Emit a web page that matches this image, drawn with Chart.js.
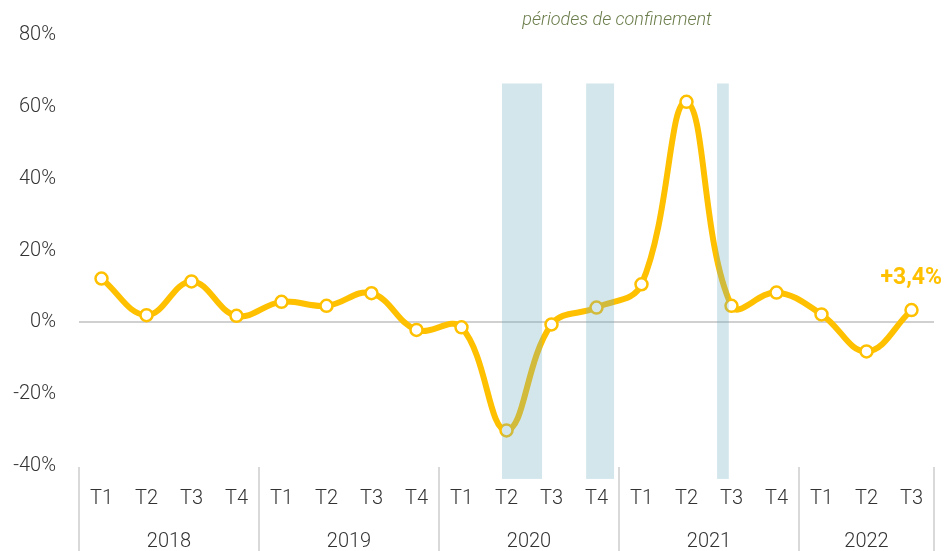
<!DOCTYPE html>
<html>
<head>
<meta charset="utf-8">
<script src="https://cdn.jsdelivr.net/npm/chart.js@4"></script>
<style>
  html, body { margin: 0; padding: 0; background: #fff; }
  #wrap { width: 944px; height: 551px; position: relative; }
</style>
</head>
<body>
<div id="wrap"><canvas id="evolution"></canvas></div>
<script>
// quarters and year groups
const quarters = ["T1", "T2", "T3", "T4", "T1", "T2", "T3", "T4", "T1", "T2", "T3", "T4", "T1", "T2", "T3", "T4", "T1", "T2", "T3"];
const years = ["2018", "2019", "2020", "2021", "2022"];
const quartersPerYear = [4, 4, 4, 4, 3];

// evolution (%)
const values = [12.2, 2.0, 11.4, 1.8, 5.7, 4.6, 8.1, -2.1, -1.4, -30.1, -0.6, 4.1, 10.6, 61.4, 4.6, 8.3, 2.2, -8.1, 3.4];
const lastLabel = "+3,4%";

// confinement periods, in category index units (start, end)
const lockdownStart = [8.9, 10.77, 13.68];
const lockdownEnd = [9.79, 11.39, 13.94];
const lockdownTop = 66.5;
const lockdownBottom = -43.6;

const yTicks = [-40, -20, 0, 20, 40, 60, 80];

const YELLOW = "#FFC000";
const TEXT = "#333333";

const extras = {
  id: "extras",
  afterDraw(chart) {
    const ctx = chart.ctx;
    const x = chart.scales.x;
    const y = chart.scales.y;

    // lockdown bands, drawn over the line
    ctx.save();
    ctx.fillStyle = "rgba(105, 172, 192, 0.3)";
    const top = y.getPixelForValue(lockdownTop);
    const bottom = y.getPixelForValue(lockdownBottom);
    lockdownStart.forEach((s, i) => {
      const x0 = x.getPixelForValue(s);
      const x1 = x.getPixelForValue(lockdownEnd[i]);
      ctx.fillRect(x0, top, x1 - x0, bottom - top);
    });
    ctx.restore();

    // caption
    ctx.save();
    ctx.font = "italic 300 18px Roboto";
    ctx.fillStyle = "#6b7d4a";
    ctx.textAlign = "center";
    ctx.textBaseline = "middle";
    ctx.fillText("périodes de confinement", 617, 20);
    ctx.restore();

    // year separators and labels
    ctx.save();
    ctx.strokeStyle = "#d9d9d9";
    ctx.lineWidth = 2;
    ctx.font = "300 20px Roboto";
    ctx.fillStyle = TEXT;
    ctx.textAlign = "center";
    ctx.textBaseline = "middle";
    let start = 0;
    const axisTop = chart.chartArea.bottom + 1;
    years.forEach((yr, i) => {
      const end = start + quartersPerYear[i];
      const left = x.getPixelForValue(start - 0.5);
      const right = x.getPixelForValue(end - 0.5);
      ctx.beginPath();
      ctx.moveTo(left, axisTop);
      ctx.lineTo(left, chart.height);
      ctx.stroke();
      if (i === years.length - 1) {
        ctx.beginPath();
        ctx.moveTo(right, axisTop);
        ctx.lineTo(right, chart.height);
        ctx.stroke();
      }
      ctx.fillText(yr, (left + right) / 2, 542);
      start = end;
    });
    ctx.restore();

    // last value label
    const last = values.length - 1;
    ctx.save();
    ctx.font = "bold 23px Roboto";
    ctx.fillStyle = YELLOW;
    ctx.textAlign = "right";
    ctx.textBaseline = "middle";
    ctx.fillText(lastLabel, 942, y.getPixelForValue(values[last]) - 32);
    ctx.restore();
  }
};

new Chart(document.getElementById("evolution"), {
  type: "line",
  data: {
    labels: quarters,
    datasets: [{
      data: values,
      borderColor: YELLOW,
      borderWidth: 6,
      tension: 0.4,
      pointRadius: 6,
      pointBorderWidth: 2.5,
      pointBackgroundColor: "#ffffff",
      pointBorderColor: YELLOW,
    }],
  },
  options: {
    responsive: true,
    maintainAspectRatio: false,
    animation: false,
    layout: { padding: { top: 21, right: 10, left: 0, bottom: 0 } },
    plugins: { legend: { display: false }, tooltip: { enabled: false } },
    scales: {
      x: {
        offset: true,
        grid: { display: false },
        border: { display: false },
        ticks: {
          color: TEXT,
          font: { family: "Roboto", size: 20, weight: 300 },
          padding: 13,
          maxRotation: 0,
          autoSkip: false,
        },
        afterFit(scale) { scale.height = 85; },
      },
      y: {
        min: -40,
        max: 80,
        afterBuildTicks(scale) { scale.ticks = yTicks.map((v) => ({ value: v })); },
        border: { display: false },
        grid: {
          drawTicks: false,
          color: (c) => (c.tick && c.tick.value === 0 ? "#d0d0d0" : "transparent"),
          lineWidth: 2,
        },
        ticks: {
          color: TEXT,
          font: { family: "Roboto", size: 20, weight: 300 },
          padding: 23,
          callback: (v) => v + "%",
        },
        afterFit(scale) { scale.width = 79; },
      },
    },
  },
  plugins: [extras],
});
</script>
</body>
</html>
